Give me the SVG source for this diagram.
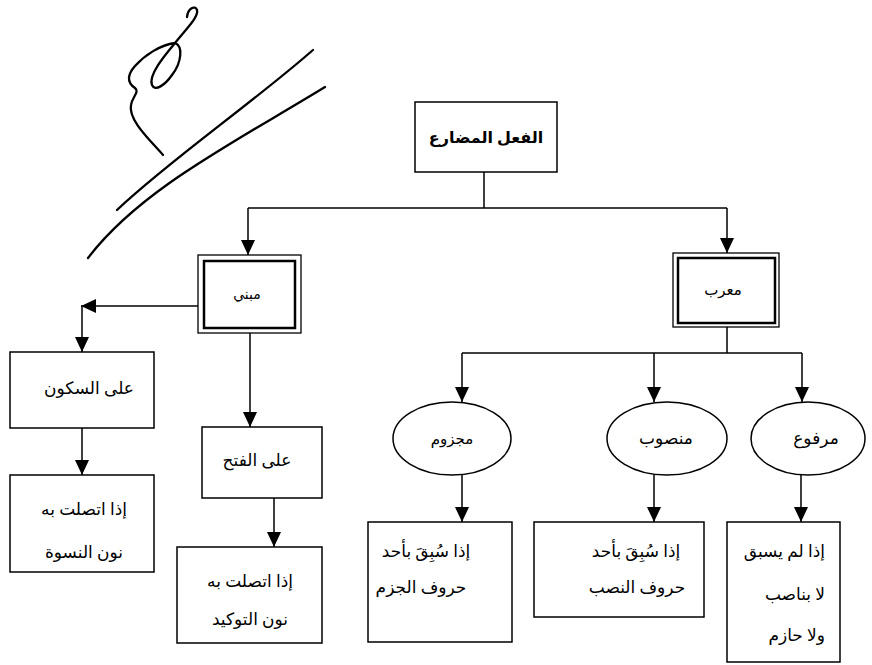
<svg xmlns="http://www.w3.org/2000/svg" width="872" height="665" viewBox="0 0 872 665">
<defs>
<marker id="ah" markerUnits="userSpaceOnUse" markerWidth="16" markerHeight="15" refX="15" refY="7" orient="auto"><path d="M0,0 L15,7 L0,14 z" fill="#000"/></marker>
<style>
.box{fill:#fff;stroke:#000;stroke-width:1.5}
.outer{fill:#fff;stroke:#000;stroke-width:1.3}
.inner{fill:none;stroke:#000;stroke-width:2.5}
.con{fill:none;stroke:#000;stroke-width:1.5}
.arr{fill:none;stroke:#000;stroke-width:1.5;marker-end:url(#ah)}
.t{font-family:"Liberation Serif","DejaVu Sans",serif;font-size:17px;fill:#000;text-anchor:middle;direction:rtl}
.tr{font-family:"Liberation Serif","DejaVu Sans",serif;font-size:17px;fill:#000;text-anchor:end}
.sk{fill:none;stroke:#000;stroke-width:2.3;stroke-linecap:round;stroke-linejoin:round}
</style>
</defs>
<rect width="872" height="665" fill="#fff"/>
<g id="scribble">
<path class="sk" d="M117,210 C170,160 250,105 313,50"/>
<path class="sk" d="M88,258 C140,190 230,145 325,87"/>
<path class="sk" d="M163,155 C150,140 128,120 131,105 C132,97 140,92 135,88 C126,82 128,74 135,66 C145,55 160,45 175,43 C183,46 182,62 172,75 C165,85 155,92 152,85 C148,75 165,55 175,43 C185,30 199,17 197,10 C195,5 188,8 187,17"/>
</g>
<g id="connectors">
<path class="con" d="M484,172 V208"/>
<path class="con" d="M248,208 H727"/>
<path class="arr" d="M248,208 V255"/>
<path class="arr" d="M727,208 V253"/>
<path class="arr" d="M198,306 H81"/>
<path class="arr" d="M82,306 V352"/>
<path class="arr" d="M250,333 V427"/>
<path class="arr" d="M82,428 V475"/>
<path class="arr" d="M274,498 V547"/>
<path class="con" d="M727,327 V353"/>
<path class="con" d="M462,353 H802"/>
<path class="arr" d="M462,353 V402"/>
<path class="arr" d="M654,353 V402"/>
<path class="arr" d="M802,353 V402"/>
<path class="arr" d="M462,475 V522"/>
<path class="arr" d="M654,475 V522"/>
<path class="arr" d="M801,475 V522"/>
</g>
<g id="root">
<rect class="box" x="415" y="102" width="142" height="70"/>
<text class="t" x="486" y="143" style="font-weight:bold;font-size:16px">الفعل المضارع</text>
</g>
<g id="mabni">
<rect class="outer" x="198" y="255" width="103" height="78"/>
<rect class="inner" x="204" y="261" width="91" height="67"/>
<text class="t" x="247" y="299" style="font-size:14px">مبني</text>
</g>
<g id="murab">
<rect class="outer" x="673" y="253" width="106" height="74"/>
<rect class="inner" x="678" y="258" width="97" height="65"/>
<text class="t" x="723" y="295" style="font-size:15px">معرب</text>
</g>
<g id="sukun">
<rect class="box" x="10" y="352" width="144" height="76"/>
<text class="t" x="89" y="394">على السكون</text>
</g>
<g id="niswa">
<rect class="box" x="10" y="475" width="144" height="97"/>
<text class="t" x="84" y="515">إذا اتصلت به</text>
<text class="t" x="84" y="558">نون النسوة</text>
</g>
<g id="fath">
<rect class="box" x="202" y="427" width="120" height="71"/>
<text class="t" x="257" y="466">على الفتح</text>
</g>
<g id="tawkid">
<rect class="box" x="177" y="547" width="145" height="96"/>
<text class="t" x="250" y="587">إذا اتصلت به</text>
<text class="t" x="250" y="625">نون التوكيد</text>
</g>
<g id="majzum">
<ellipse class="box" cx="452" cy="438.5" rx="59" ry="36.5"/>
<text class="t" x="452" y="444" style="font-size:15px">مجزوم</text>
</g>
<g id="mansub">
<ellipse class="box" cx="667" cy="438.5" rx="60" ry="36.5"/>
<text class="t" x="666" y="444">منصوب</text>
</g>
<g id="marfu">
<ellipse class="box" cx="808" cy="438.5" rx="57" ry="36.5"/>
<text class="t" x="816" y="444">مرفوع</text>
</g>
<g id="jazm">
<rect class="box" x="368" y="522" width="144" height="120"/>
<text class="t" x="426" y="557">إذا سُبِقَ بأحد</text>
<text class="t" x="421" y="593">حروف الجزم</text>
</g>
<g id="nasb">
<rect class="box" x="534" y="522" width="170" height="95"/>
<text class="t" x="636" y="557">إذا سُبِقَ بأحد</text>
<text class="t" x="637" y="593">حروف النصب</text>
</g>
<g id="raf">
<rect class="box" x="727" y="522" width="113" height="140"/>
<text class="tr" x="825" y="557">إذا لم يسبق</text>
<text class="tr" x="825" y="600">لا بناصب</text>
<text class="tr" x="825" y="641">ولا حازم</text>
</g>
</svg>
